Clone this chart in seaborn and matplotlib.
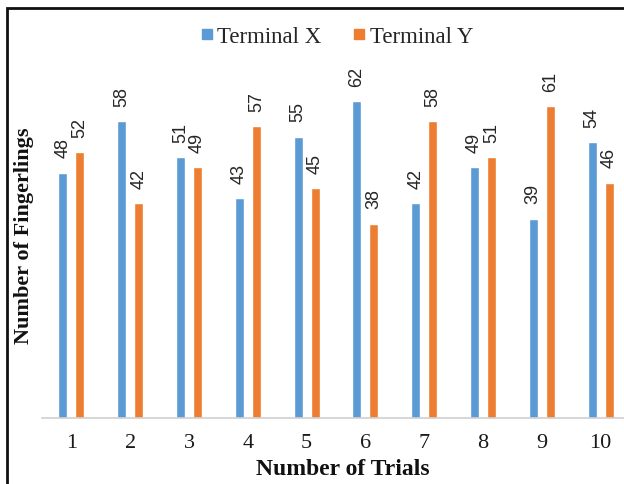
import matplotlib
matplotlib.use("Agg")
import matplotlib.pyplot as plt
import seaborn as sns
import pandas as pd
from matplotlib.patches import Rectangle
from matplotlib.lines import Line2D

trials = ["1", "2", "3", "4", "5", "6", "7", "8", "9", "10"]
terminal_x = [48, 58, 51, 43, 55, 62, 42, 49, 39, 54]
terminal_y = [52, 42, 49, 57, 45, 38, 58, 51, 61, 46]
series_names = ["Terminal X", "Terminal Y"]

df = pd.DataFrame({
    "Trial": trials * 2,
    "Value": terminal_x + terminal_y,
    "Series": [series_names[0]] * len(trials) + [series_names[1]] * len(trials),
})

sns.set_theme(style="white")
plt.rcParams["font.family"] = ["Liberation Serif", "DejaVu Serif"]

fig = plt.figure(figsize=(6.24, 4.85), dpi=100)
ax = fig.add_axes([42 / 624, 66 / 485, 588 / 624, 358 / 485])

palette = {"Terminal X": "#5B9BD5", "Terminal Y": "#ED7D31"}
sns.barplot(data=df, x="Trial", y="Value", hue="Series", order=trials,
            hue_order=series_names, palette=palette, width=0.58, gap=0.47,
            ax=ax, legend=False, saturation=1)

ax.set_ylim(0, 70)
ax.set_yticks([])
for s in ["top", "right", "left"]:
    ax.spines[s].set_visible(False)
ax.spines["bottom"].set_color("#d0d0d0")
ax.spines["bottom"].set_linewidth(1.2)
ax.tick_params(axis="x", length=0, labelsize=16, pad=11, colors="#1a1a1a")
ax.set_xlabel("")
ax.set_ylabel("")

for container in ax.containers:
    ax.bar_label(container, labels=[f"{v:g}" for v in container.datavalues],
                 rotation=90, padding=11, fontsize=13, color="#262626",
                 family=["Liberation Sans", "DejaVu Sans"])

fig.text(343 / 624, 1 - 470 / 485, "Number of Trials", ha="center", va="center",
         fontsize=17, fontweight="bold", color="#111111")
fig.text(24 / 624, 1 - 236 / 485, "Number of Fingerlings", ha="center", va="center",
         rotation=90, fontsize=16, fontweight="bold", color="#111111")

handles = [Line2D([0], [0], marker="s", linestyle="", markersize=7,
                  markerfacecolor=palette[n], markeredgecolor=palette[n]) for n in series_names]
fig.legend(handles, series_names, loc="center", bbox_to_anchor=(336 / 624, 1 - 37 / 485),
           ncol=2, frameon=False, fontsize=16.5, handletextpad=0.1, columnspacing=1.3,
           handlelength=0.7)

fig.patches.append(Rectangle((7 / 624, -0.1), 1.2, 1 - 9 / 485 + 0.1,
                             transform=fig.transFigure, fill=False,
                             edgecolor="#111111", linewidth=2))

fig.savefig("out.png", dpi=100)
